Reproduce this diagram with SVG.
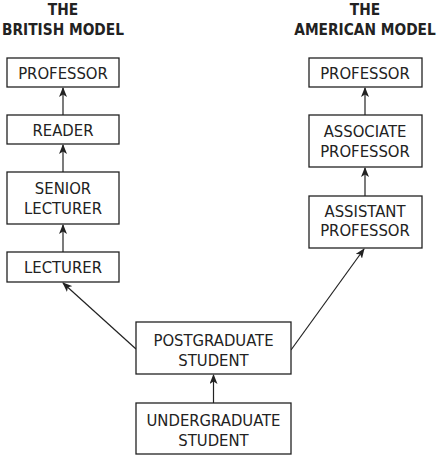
<svg xmlns="http://www.w3.org/2000/svg" width="440" height="458" viewBox="0 0 440 458">
<style>
.box{fill:#fff;stroke:#222;stroke-width:1.3}
.t{font-family:"DejaVu Sans Condensed","DejaVu Sans",sans-serif;font-stretch:condensed;font-size:16.5px;fill:#222;text-anchor:middle}
.h{font-family:"DejaVu Sans Condensed","DejaVu Sans",sans-serif;font-stretch:condensed;font-size:15.3px;font-weight:bold;fill:#222;text-anchor:middle}
.c{stroke:#222;stroke-width:1.2;fill:none;marker-end:url(#ah)}
</style>
<defs>
<marker id="ah" markerWidth="10" markerHeight="8" refX="9" refY="4" orient="auto" markerUnits="userSpaceOnUse">
<path d="M0,0 L10,4 L0,8 L2.5,4 Z" fill="#222"/>
</marker>
</defs>
<rect width="440" height="458" fill="#fff"/>
<g id="title-british"><text class="h" x="63" y="15">THE</text><text class="h" x="63" y="35">BRITISH MODEL</text></g>
<g id="title-american"><text class="h" x="365" y="15">THE</text><text class="h" x="365" y="35">AMERICAN MODEL</text></g>
<g id="connectors">
<line class="c" x1="63" y1="115" x2="63" y2="88"/>
<line class="c" x1="63" y1="172" x2="63" y2="145"/>
<line class="c" x1="63" y1="252" x2="63" y2="225"/>
<line class="c" x1="365" y1="115" x2="365" y2="88"/>
<line class="c" x1="365" y1="196" x2="365" y2="168"/>
<line class="c" x1="136" y1="349" x2="63" y2="283"/>
<line class="c" x1="291" y1="350" x2="364" y2="249"/>
<line class="c" x1="213.5" y1="403" x2="213.5" y2="375"/>
</g>
<g id="b-professor"><rect class="box" x="7" y="58" width="112" height="29"/><text class="t" x="63" y="79">PROFESSOR</text></g>
<g id="b-reader"><rect class="box" x="7" y="115" width="112" height="29"/><text class="t" x="63" y="136">READER</text></g>
<g id="b-senior"><rect class="box" x="7" y="172" width="112" height="52"/><text class="t" x="63" y="194">SENIOR</text><text class="t" x="63" y="214">LECTURER</text></g>
<g id="b-lecturer"><rect class="box" x="7" y="252" width="112" height="30"/><text class="t" x="63" y="273">LECTURER</text></g>
<g id="a-professor"><rect class="box" x="309" y="58" width="113" height="29"/><text class="t" x="365" y="79">PROFESSOR</text></g>
<g id="a-associate"><rect class="box" x="309" y="115" width="113" height="52"/><text class="t" x="365" y="137">ASSOCIATE</text><text class="t" x="365" y="157">PROFESSOR</text></g>
<g id="a-assistant"><rect class="box" x="309" y="196" width="113" height="52"/><text class="t" x="365" y="217">ASSISTANT</text><text class="t" x="365" y="236">PROFESSOR</text></g>
<g id="postgrad"><rect class="box" x="136" y="322" width="155" height="52"/><text class="t" x="213.5" y="346">POSTGRADUATE</text><text class="t" x="213.5" y="366">STUDENT</text></g>
<g id="undergrad"><rect class="box" x="136" y="403" width="155" height="51"/><text class="t" x="213.5" y="426">UNDERGRADUATE</text><text class="t" x="213.5" y="446">STUDENT</text></g>
</svg>
